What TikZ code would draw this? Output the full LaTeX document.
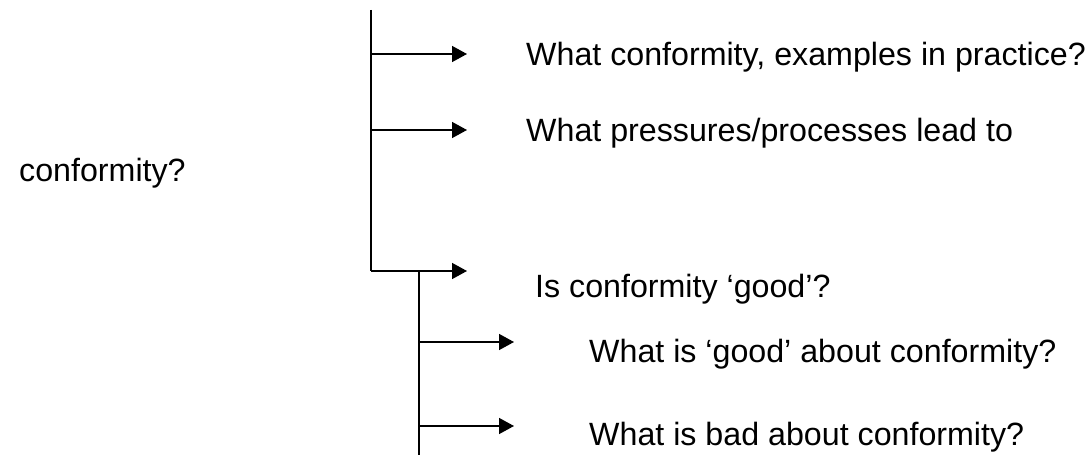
\documentclass[tikz,border=0pt]{standalone}
\usepackage{fontspec}
\setmainfont{Liberation Sans}
\usetikzlibrary{arrows.meta}
\tikzset{
  txt/.style={anchor=base west, inner sep=0pt, font=\fontsize{32.2}{38}\selectfont},
  trunk/.style={line width=1.5pt, draw=black},
  branch/.style={line width=1.5pt, draw=black, -{Triangle[length=15pt,width=16pt]}}
}
\begin{document}
\begin{tikzpicture}[x=1pt,y=-1pt]
\useasboundingbox (0,0) rectangle (1091,457);
% main trunk
\coordinate (m0) at (371,10);
\coordinate (m1) at (371,54);
\coordinate (m2) at (371,130);
\coordinate (m3) at (371,271);
\coordinate (a1) at (467,54);
\coordinate (a2) at (467,130);
\coordinate (a3) at (467,271);
% sub trunk
\coordinate (s0) at (419,271);
\coordinate (s1) at (419,342);
\coordinate (s2) at (419,426);
\coordinate (s3) at (419,455);
\coordinate (b1) at (514,342);
\coordinate (b2) at (514,426);
% texts
\node[txt] (t1) at (526,66) {What conformity, examples in practice?};
\node[txt] (t2) at (526,142) {What pressures/processes lead to};
\node[txt] (t3) at (19,182) {conformity?};
\node[txt] (t4) at (535,297) {Is conformity ‘good’?};
\node[txt] (t5) at (589,362) {What is ‘good’ about conformity?};
\node[txt] (t6) at (589,445) {What is bad about conformity?};
% lines
\draw[trunk] (m0) -- (m3);
\draw[branch] (m1) -- (a1);
\draw[branch] (m2) -- (a2);
\draw[branch] (m3) -- (a3);
\draw[trunk] (s0) -- (s3);
\draw[branch] (s1) -- (b1);
\draw[branch] (s2) -- (b2);
\end{tikzpicture}
\end{document}
